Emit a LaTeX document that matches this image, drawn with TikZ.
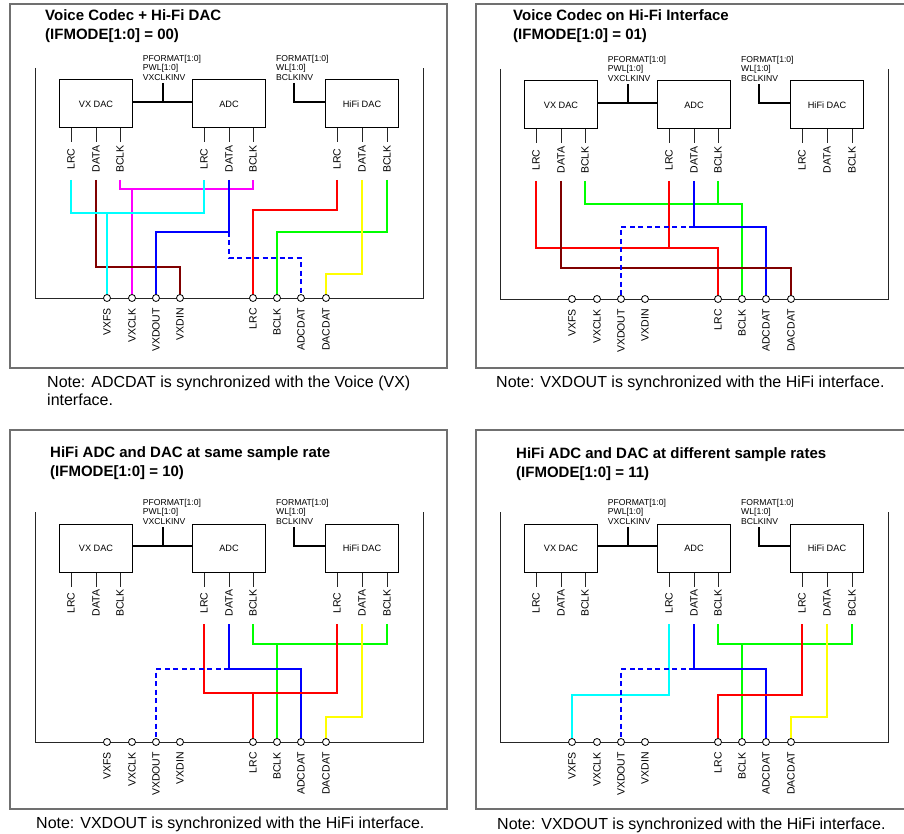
\documentclass[tikz,border=0pt]{standalone}
\usepackage{fontspec}
\setmainfont{Liberation Sans}
\definecolor{framegray}{RGB}{112,112,112}
\definecolor{wcyan}{RGB}{0,255,255}
\definecolor{wdred}{RGB}{128,0,0}
\definecolor{wmag}{RGB}{255,0,255}
\definecolor{wblue}{RGB}{0,0,255}
\definecolor{wred}{RGB}{255,0,0}
\definecolor{wgreen}{RGB}{0,255,0}
\definecolor{wyel}{RGB}{255,255,0}
\tikzset{
  outerframe/.style={draw=framegray, line width=1.6pt},
  blk/.style={draw, line width=1pt, minimum width=73pt, minimum height=48pt, inner sep=0pt, font=\fontsize{9.2}{10}\selectfont},
  ctl/.style={anchor=north west, inner sep=0pt, align=left, font=\fontsize{8.6}{9.5}\selectfont},
  pinlab/.style={rotate=90, inner sep=0pt, font=\fontsize{10.5}{12}\selectfont},
  buslab/.style={rotate=90, anchor=east, inner sep=0pt, font=\fontsize{10.5}{12}\selectfont},
  buspin/.style={circle, draw, fill=white, line width=0.8pt, minimum size=7pt, inner sep=0pt},
  stubline/.style={line width=1pt, draw=black!85},
  busline/.style={line width=1pt, draw=black!85},
  ctlline/.style={line width=2pt},
  wire/.style={line width=2pt},
  dashwire/.style={line width=2pt, dash pattern=on 5pt off 3.5pt},
  ttl/.style={anchor=base west, inner sep=0pt, font=\fontsize{15}{17}\selectfont\bfseries},
  notetxt/.style={anchor=base west, inner sep=0pt, font=\fontsize{16}{18}\selectfont},
}
% #1 node name, #2 #3 #4 x of LRC, DATA, BCLK
\newcommand\pinrow[4]{%
  \coordinate (#1L) at (#2,180);
  \coordinate (#1D) at (#3,180);
  \coordinate (#1B) at (#4,180);
  \draw[stubline] (#1L |- #1.south) -- ++(0,14);
  \draw[stubline] (#1D |- #1.south) -- ++(0,14);
  \draw[stubline] (#1B |- #1.south) -- ++(0,14);
  \node[pinlab] (#1Lt) at (#2,159) {LRC};
  \node[pinlab] (#1Dt) at (#3,159) {DATA};
  \node[pinlab] (#1Bt) at (#4,159) {BCLK};
}
\newcommand\skel[1]{%
  \node[blk] (#1vx) at (96,104) {VX DAC};
  \node[blk] (#1adc) at (229,104) {ADC};
  \node[blk] (#1hifi) at (362,104) {HiFi DAC};
  \draw[ctlline] ([yshift=2pt]#1vx.east) -- ([yshift=2pt]#1adc.west);
  \node[ctl] (#1pl) at (142.7,55) {PFORMAT[1:0]\\PWL[1:0]\\VXCLKINV};
  \node[ctl] (#1fl) at (276,55) {FORMAT[1:0]\\WL[1:0]\\BCLKINV};
  \coordinate (#1pj) at (163,83);
  \coordinate (#1fj) at (294,83);
  \draw[ctlline] (#1pj) -- ++(0,19);
  \draw[ctlline] (#1fj) -- ++(0,19) -- ([yshift=2pt]#1hifi.west);
  \pinrow{#1vx}{71}{96}{120}
  \pinrow{#1adc}{204}{229}{253}
  \pinrow{#1hifi}{337}{362}{387}
  \coordinate (#1tl) at (35,68);
  \coordinate (#1bl) at (35,298);
  \coordinate (#1br) at (423,298);
  \coordinate (#1tr) at (423,68);
  \draw[busline] (#1tl) -- (#1bl) -- (#1br) -- (#1tr);
  \coordinate (#1c1) at (107,298);
  \coordinate (#1c2) at (132,298);
  \coordinate (#1c3) at (156,298);
  \coordinate (#1c4) at (180,298);
  \coordinate (#1c5) at (253,298);
  \coordinate (#1c6) at (277,298);
  \coordinate (#1c7) at (301,298);
  \coordinate (#1c8) at (326,298);
  \node[buslab] (#1t1) at (107,308) {VXFS};
  \node[buslab] (#1t2) at (132,308) {VXCLK};
  \node[buslab] (#1t3) at (156,308) {VXDOUT};
  \node[buslab] (#1t4) at (180,308) {VXDIN};
  \node[buslab] (#1t5) at (253,308) {LRC};
  \node[buslab] (#1t6) at (277,308) {BCLK};
  \node[buslab] (#1t7) at (301,308) {ADCDAT};
  \node[buslab] (#1t8) at (326,308) {DACDAT};
}
\newcommand\buspins[1]{%
  \node[buspin] (#1b1) at (#1c1) {};
  \node[buspin] (#1b2) at (#1c2) {};
  \node[buspin] (#1b3) at (#1c3) {};
  \node[buspin] (#1b4) at (#1c4) {};
  \node[buspin] (#1b5) at (#1c5) {};
  \node[buspin] (#1b6) at (#1c6) {};
  \node[buspin] (#1b7) at (#1c7) {};
  \node[buspin] (#1b8) at (#1c8) {};
}
\begin{document}
\begin{tikzpicture}[x=1pt,y=-1pt]
\useasboundingbox (0,0) rectangle (904,834);
\fill[white] (0,0) rectangle (904,834);
% ---------- Panel 1
\draw[outerframe] (10,4) rectangle (447,368);
\node[ttl] (t1a) at (45,20.7) {Voice Codec + Hi-Fi DAC};
\node[ttl] (t1b) at (45,39.3) {(IFMODE[1:0] = 00)};
\node[notetxt] (n1a) at (47,387.5) {Note: ADCDAT is synchronized with the Voice (VX)};
\node[notetxt] (n1b) at (47,405.5) {interface.};
\begin{scope}
\skel{A}
\draw[wire,wmag] (AvxB) -- ++(0,9) -| (AadcB);
\draw[wire,wmag] (Ac2) -- ++(0,-109);
\draw[wire,wdred] (AvxD) -- ++(0,87) -| (Ac4);
\draw[wire,wcyan] (AvxL) -- ++(0,33) -| (AadcL);
\draw[wire,wcyan] (Ac1) -- ++(0,-85);
\draw[wire,wblue] (AadcD) -- ++(0,52) -| (Ac3);
\draw[wire,wred] (AhifiL) -- ++(0,30) -| (Ac5);
\draw[wire,wgreen] (AhifiB) -- ++(0,52) -| (Ac6);
\draw[wire,wyel] (AhifiD) -- ++(0,94) -| (Ac8);
\draw[dashwire,wblue] (AadcD) ++(0,52) -- ++(0,26) -| (Ac7);
\buspins{A}
\end{scope}
% ---------- Panel 2
\draw[outerframe] (476,4) rectangle (906,368);
\node[ttl] (t2a) at (513,20.7) {Voice Codec on Hi-Fi Interface};
\node[ttl] (t2b) at (513,39.7) {(IFMODE[1:0] = 01)};
\node[notetxt] (n2a) at (496,387.5) {Note: VXDOUT is synchronized with the HiFi interface.};
\begin{scope}[shift={(465,1)}]
\skel{B}
\draw[wire,wgreen] (BvxB) -- ++(0,23) -| (Bc6);
\draw[wire,wgreen] (BadcB) -- ++(0,23);
\draw[wire,wblue] (BadcD) -- ++(0,46) -| (Bc7);
\draw[wire,wred] (BvxL) -- ++(0,67) -| (Bc5);
\draw[wire,wred] (BadcL) -- ++(0,67);
\draw[wire,wdred] (BvxD) -- ++(0,87) -| (Bc8);
\draw[dashwire,wblue] (BadcD) ++(0,46) -| (Bc3);
\buspins{B}
\end{scope}
% ---------- Panel 3
\draw[outerframe] (10,430) rectangle (447,809);
\node[ttl] (t3a) at (50,457.7) {HiFi ADC and DAC at same sample rate};
\node[ttl] (t3b) at (50,476.7) {(IFMODE[1:0] = 10)};
\node[notetxt] (n3a) at (36,828) {Note: VXDOUT is synchronized with the HiFi interface.};
\begin{scope}[shift={(0,444)}]
\skel{C}
\draw[wire,wgreen] (CadcB) -- ++(0,20) -| (ChifiB);
\draw[wire,wgreen] (Cc6) -- ++(0,-98);
\draw[wire,wblue] (CadcD) -- ++(0,45) -| (Cc7);
\draw[wire,wred] (CadcL) -- ++(0,69) -| (ChifiL);
\draw[wire,wred] (Cc5) -- ++(0,-49);
\draw[wire,wyel] (ChifiD) -- ++(0,93) -| (Cc8);
\draw[dashwire,wblue] (CadcD) ++(0,45) -| (Cc3);
\buspins{C}
\end{scope}
% ---------- Panel 4
\draw[outerframe] (476,430) rectangle (906,809);
\node[ttl] (t4a) at (516,458.5) {HiFi ADC and DAC at different sample rates};
\node[ttl] (t4b) at (516,477.5) {(IFMODE[1:0] = 11)};
\node[notetxt] (n4a) at (497,829) {Note: VXDOUT is synchronized with the HiFi interface.};
\begin{scope}[shift={(465,444)}]
\skel{D}
\draw[wire,wgreen] (DadcB) -- ++(0,20) -| (DhifiB);
\draw[wire,wgreen] (Dc6) -- ++(0,-98);
\draw[wire,wblue] (DadcD) -- ++(0,45) -| (Dc7);
\draw[wire,wcyan] (DadcL) -- ++(0,71) -| (Dc1);
\draw[wire,wred] (DhifiL) -- ++(0,71) -| (Dc5);
\draw[wire,wyel] (DhifiD) -- ++(0,93) -| (Dc8);
\draw[dashwire,wblue] (DadcD) ++(0,45) -| (Dc3);
\buspins{D}
\end{scope}
\end{tikzpicture}
\end{document}
